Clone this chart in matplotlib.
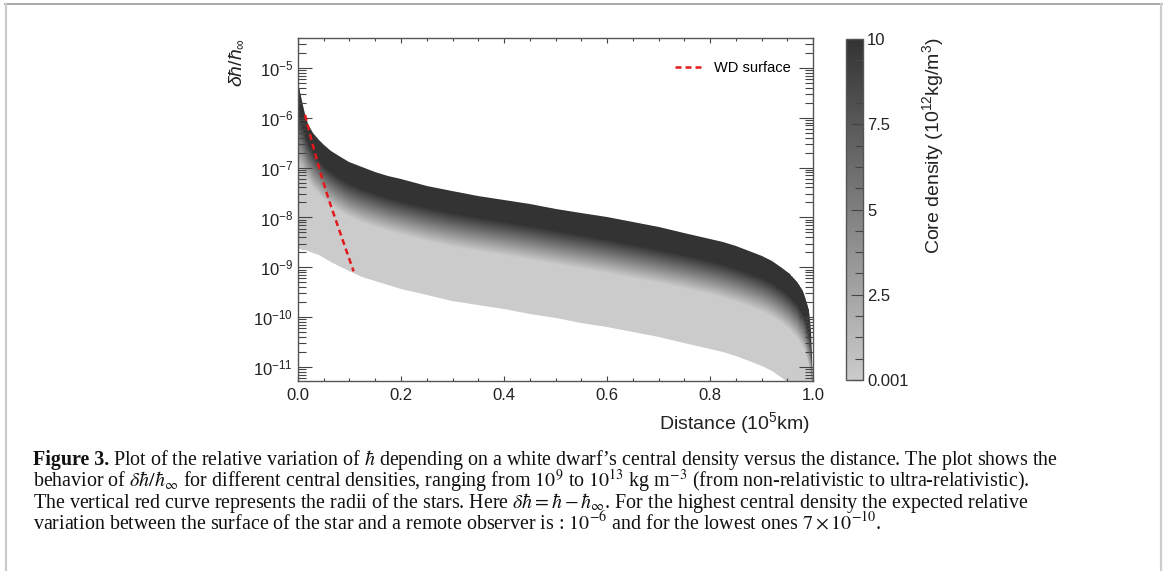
import numpy as np
import matplotlib
matplotlib.use("Agg")
import matplotlib.pyplot as plt
from matplotlib.colors import LinearSegmentedColormap, Normalize
from matplotlib.ticker import FixedLocator, LogLocator, NullFormatter, MultipleLocator
from matplotlib.lines import Line2D

plt.rcParams['font.family'] = ['Liberation Sans', 'DejaVu Sans']
plt.rcParams['mathtext.fontset'] = 'custom'
plt.rcParams['mathtext.rm'] = 'Liberation Sans'
plt.rcParams['mathtext.it'] = 'Liberation Sans:italic'
plt.rcParams['mathtext.bf'] = 'Liberation Sans:bold'

# ---------------- data ----------------
# distance in 10^5 km
dist = [0.0, 0.004, 0.008, 0.0136, 0.02, 0.03, 0.04, 0.05, 0.065, 0.08, 0.1, 0.125, 0.15,
        0.175, 0.2, 0.25, 0.3, 0.35, 0.4, 0.45, 0.5, 0.55, 0.6, 0.65, 0.7, 0.75, 0.8,
        0.825, 0.85, 0.875, 0.9, 0.92, 0.94, 0.955, 0.97, 0.98, 0.987, 0.992, 0.995,
        0.997, 0.999, 1.0]
# log10(dh/h_inf) of the densest star (core density 10 x 10^12 kg/m^3)
top_log = [-5.28, -5.47, -5.66, -5.93, -6.12, -6.31, -6.44, -6.55, -6.67, -6.77, -6.88,
           -6.99, -7.08, -7.16, -7.23, -7.36, -7.47, -7.56, -7.64, -7.73, -7.82, -7.91,
           -8.00, -8.10, -8.20, -8.31, -8.43, -8.50, -8.58, -8.67, -8.77, -8.87, -9.01,
           -9.14, -9.31, -9.48, -9.66, -9.86, -10.05, -10.28, -10.78, -11.60]
# lower edge of the solid dark part of the family
dark_log = [-5.90, -6.00, -6.12, -6.32, -6.50, -6.70, -6.84, -6.96, -7.09, -7.20, -7.32,
            -7.43, -7.52, -7.60, -7.67, -7.80, -7.91, -8.00, -8.08, -8.17, -8.26, -8.35,
            -8.44, -8.54, -8.64, -8.75, -8.87, -8.94, -9.02, -9.11, -9.21, -9.31, -9.45,
            -9.58, -9.75, -9.92, -10.10, -10.30, -10.49, -10.72, -11.22, -12.04]
# level where the family reaches the lightest tone
light_log = [-7.00, -7.03, -7.08, -7.18, -7.28, -7.42, -7.53, -7.64, -7.77, -7.88, -8.00,
             -8.11, -8.20, -8.28, -8.35, -8.48, -8.59, -8.68, -8.76, -8.85, -8.94, -9.03,
             -9.12, -9.22, -9.32, -9.43, -9.55, -9.62, -9.70, -9.79, -9.89, -9.99, -10.13,
             -10.26, -10.43, -10.60, -10.78, -10.98, -11.17, -11.40, -11.90, -12.72]
# least dense star (core density 0.001 x 10^12 kg/m^3)
bottom_log = [-8.64, -8.64, -8.65, -8.66, -8.68, -8.72, -8.76, -8.81, -8.89, -8.97, -9.07,
              -9.19, -9.28, -9.36, -9.43, -9.56, -9.67, -9.76, -9.84, -9.93, -10.02, -10.11,
              -10.20, -10.30, -10.40, -10.51, -10.63, -10.70, -10.78, -10.87, -10.97, -11.07,
              -11.21, -11.34, -11.51, -11.68, -11.86, -12.06, -12.25, -12.48, -12.98, -13.80]

# WD surface (red dashed curve)
wd_dist = [0.0136, 0.03, 0.045, 0.06, 0.075, 0.09, 0.108]
wd_log = [-5.94, -6.60, -7.15, -7.65, -8.10, -8.55, -9.08]

dens_min, dens_max = 0.001, 10.0
cbar_ticks = [0.001, 2.5, 5, 7.5, 10]
cbar_ticklabels = ['0.001', '2.5', '5', '7.5', '10']
cbar_minor = [0.625, 1.25, 1.875, 3.125, 3.75, 4.375, 5.625, 6.25, 6.875, 8.125, 8.75, 9.375]

# ---------------- figure ----------------
W, H = 1165, 571
fig = plt.figure(figsize=(W / 100, H / 100), dpi=100)
ax = fig.add_axes([298 / W, 1 - 381 / H, 515 / W, 343 / H])
ax.set_yscale('log')
ax.set_xlim(0, 1)
ax.set_ylim(10 ** -11.28, 10 ** -4.4)

cmap = LinearSegmentedColormap.from_list('wdgray', ['#cbcbcb', '#333333'])
norm = Normalize(vmin=dens_min, vmax=dens_max)

# shaded family of curves
nx, ny = 1100, 900
xg = np.linspace(0, 1, nx + 1)
lyg = np.linspace(-11.5, -4.3, ny + 1)
xc = 0.5 * (xg[1:] + xg[:-1])
lyc = 0.5 * (lyg[1:] + lyg[:-1])
T = np.interp(xc, dist, top_log)[None, :]
D = np.interp(xc, dist, dark_log)[None, :]
L = np.interp(xc, dist, light_log)[None, :]
B = np.interp(xc, dist, bottom_log)[None, :]
LY = lyc[:, None]
frac = np.clip((LY - L) / (D - L), 0, 1)
val = dens_min + frac * (dens_max - dens_min)
mask = (LY > T + 0.02) | (LY < B - 0.02)
mesh = ax.pcolormesh(xg, 10 ** lyg, np.ma.array(val, mask=mask), cmap=cmap, norm=norm,
                     shading='flat', rasterized=True, zorder=1)
poly = ax.fill_between(dist, 10 ** np.array(bottom_log), 10 ** np.array(top_log),
                       facecolor='none', edgecolor='none', linewidth=0)
mesh.set_clip_path(poly.get_paths()[0], ax.transData)

ax.plot(wd_dist, 10 ** np.array(wd_log), color='#e31a1c', lw=1.8,
        dashes=(2.4, 1.6), label='WD surface', zorder=3)

leg = ax.legend(loc='upper right', bbox_to_anchor=(0.957, 0.933), frameon=False,
                fontsize=10.5, handlelength=2.0, handletextpad=0.7, borderpad=0,
                borderaxespad=0)

# axes styling
for s in ax.spines.values():
    s.set_color('#555555')
    s.set_linewidth(1.0)
ax.xaxis.set_major_locator(MultipleLocator(0.2))
ax.xaxis.set_minor_locator(MultipleLocator(0.05))
ax.yaxis.set_major_locator(LogLocator(base=10, numticks=20))
ax.yaxis.set_minor_locator(LogLocator(base=10, subs=np.arange(2, 10), numticks=20))
ax.yaxis.set_minor_formatter(NullFormatter())
ax.tick_params(which='both', direction='in', top=True, right=True, color='#444444',
               width=0.8, labelsize=12, labelcolor='#222222')
ax.tick_params(axis='y', which='major', length=10)
ax.tick_params(axis='y', which='minor', length=5.5)
ax.tick_params(axis='x', which='major', length=3.8, pad=5)
ax.tick_params(axis='x', which='minor', length=2.2)

fig.text(810 / W, 1 - 429 / H, 'Distance (10$^5$km)', ha='right', va='baseline',
         fontsize=14, color='#222222')
fig.text(236 / W, 1 - 38 / H, r'$\delta\hbar/\hbar_\infty$', rotation=90, ha='center',
         va='top', fontsize=14, color='#222222')

# colorbar
cax = fig.add_axes([846 / W, 1 - 380 / H, 17 / W, 341 / H])
cb = fig.colorbar(mesh, cax=cax)
cb.set_ticks(cbar_ticks)
cb.set_ticklabels(cbar_ticklabels)
cb.ax.yaxis.set_minor_locator(FixedLocator(cbar_minor))
cb.ax.tick_params(which='both', direction='in', color='#444444', width=0.8,
                  labelsize=12, labelcolor='#222222', pad=3)
cb.ax.tick_params(which='major', length=9)
cb.ax.tick_params(which='minor', length=5.5)
cb.outline.set_edgecolor('#555555')
cb.outline.set_linewidth(1.0)
fig.text(933 / W, 1 - 37 / H, 'Core density (10$^{12}$kg/m$^3$)', rotation=90,
         ha='center', va='top', fontsize=14, color='#222222')

# page frame
fig.add_artist(Line2D([5 / W, 1162 / W], [1 - 4 / H, 1 - 4 / H], color='#999999', lw=1.2,
                      transform=fig.transFigure))
fig.add_artist(Line2D([6 / W, 6 / W], [0, 1 - 4 / H], color='#cccccc', lw=1.6,
                      transform=fig.transFigure))
fig.add_artist(Line2D([1161 / W, 1161 / W], [0, 1 - 4 / H], color='#cccccc', lw=1.6,
                      transform=fig.transFigure))

# caption
cap_kw = dict(fontsize=14.4, family=['Liberation Serif', 'DejaVu Serif'], math_fontfamily='stix',
              color='#111111', va='baseline', ha='left')
x0 = 33 / W
fig_lbl = fig.text(x0, 1 - 465 / H, 'Figure 3.', fontweight='bold', **cap_kw)
fig.canvas.draw()
bb = fig_lbl.get_window_extent()
fig.text((bb.x1 + 4) / W, 1 - 465 / H,
         'Plot of the relative variation of $\\hbar$ depending on a white dwarf\u2019s central '
         'density versus the distance. The plot shows the', **cap_kw)
fig.text(x0, 1 - 486.5 / H,
         'behavior of $\\delta\\hbar/\\hbar_\\infty$ for different central densities, ranging from '
         '$10^9$ to $10^{13}$ kg m$^{-3}$ (from non-relativistic to ultra-relativistic).', **cap_kw)
fig.text(x0, 1 - 508 / H,
         'The vertical red curve represents the radii of the stars. Here '
         '$\\delta\\hbar = \\hbar - \\hbar_\\infty$. For the highest central density the expected relative',
         **cap_kw)
fig.text(x0, 1 - 529.5 / H,
         'variation between the surface of the star and a remote observer is : $10^{-6}$ and for '
         'the lowest ones $7 \\times 10^{-10}$.', **cap_kw)

fig.savefig('out.png', dpi=100)
